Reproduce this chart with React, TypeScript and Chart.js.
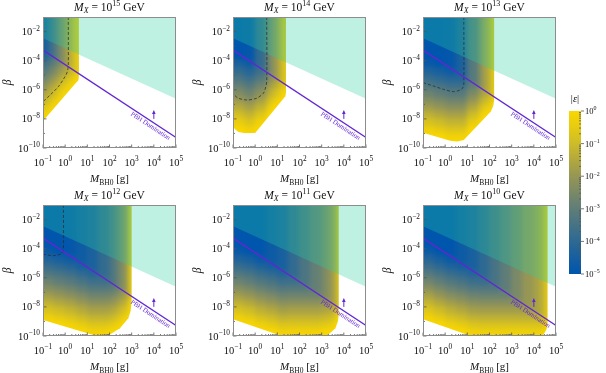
import React, { useEffect, useRef } from "react";
import { Chart, registerables } from "chart.js";
Chart.register(...registerables);

// ---------------- data ----------------
const MX_EXPONENTS = [15, 14, 13, 12, 11, 10];
const M_MIN = 0.1;
const M_MAX = 1e5;
const BETA_MIN = 1e-10;
const BETA_MAX = 1e-1;
const X_TICK_EXPONENTS = [-1, 0, 1, 2, 3, 4, 5];
const Y_TICK_EXPONENTS = [-10, -8, -6, -4, -2];
const Y_MINOR_EXPONENTS = [-9, -7, -5, -3];
const CB_TICK_EXPONENTS = [-5, -4, -3, -2, -1, 0];
// log10(beta) edges of the heat-map rows (top to bottom)
const BETA_ROW_EDGES = [-1, -1.5, -2, -2.5, -3, -3.5, -4, -4.5, -5, -5.5, -6, -6.5, -7, -7.5, -8, -8.5, -9, -9.5, -10];
// PBH domination line and the cyan excluded band edge
const PBH_LINE = [{ x: 0.1, y: 5.3e-4 }, { x: 1e5, y: 5.3e-10 }];
const BOUND_EDGE = [{ x: 0.1, y: 3.5e-3 }, { x: 1e5, y: 2.4e-7 }];
const PBH_ARROW = { x: 1e4, from: 1e-8, to: 3.2e-8 };
const PBH_LABEL = { text: "PBH Domination", x: 9e3 };

// ---- M_X = 1e15 GeV ----
const M_EDGES_15 = [-1, -0.75, -0.5, -0.25, 0, 0.25, 0.45, 0.65, 0.85];
const LOG_EPS_15 = [
  [-4.5, -4.5, -4.5, -4.5, -4.5, -4.2, -3.7, -3.2, -2.7, -2.2, -1.7, -1.2, -0.7, -0.2, 0, 0, 0, 0],
  [-3.8, -3.8, -3.8, -3.8, -3.8, -3.7, -3.2, -2.7, -2.2, -1.7, -1.2, -0.7, -0.2, 0, 0, 0, 0, 0],
  [-3.1, -3.1, -3.1, -3.1, -3.1, -3.1, -2.8, -2.3, -1.8, -1.3, -0.8, -0.3, 0, 0, 0, 0, 0, 0],
  [-2.4, -2.4, -2.4, -2.4, -2.4, -2.4, -2.3, -1.8, -1.3, -0.8, -0.3, 0, 0, 0, 0, 0, 0, 0],
  [-1.7, -1.7, -1.7, -1.7, -1.7, -1.7, -1.7, -1.4, -0.9, -0.4, 0, 0, 0, 0, 0, 0, 0, 0],
  [-1.1, -1.1, -1.1, -1.1, -1.1, -1.1, -1.1, -1.0, -0.5, 0, 0, 0, 0, 0, 0, 0, 0, 0],
  [-0.5, -0.5, -0.5, -0.5, -0.5, -0.5, -0.5, -0.5, -0.1, 0, 0, 0, 0, 0, 0, 0, 0, 0],
  [-0.3, -0.3, -0.3, -0.3, -0.3, -0.3, -0.3, -0.3, 0, 0, 0, 0, 0, 0, 0, 0, 0, 0],
];
const REGION_15 = [[-1, -1], [0.62, -1], [0.62, -5.05], [0.6, -5.35], [0.49, -5.51], [-1, -8.14]];
const CONTOUR_15 = [[0.14, -1], [0.14, -4.3], [0.1, -4.75], [-0.01, -5.1], [-0.31, -5.79], [-0.68, -6.36], [-0.91, -6.7], [-1, -6.8]];

// ---- M_X = 1e14 GeV ----
const M_EDGES_14 = [-1, -0.5, 0, 0.5, 0.75, 1.0, 1.2, 1.4, 1.6];
const LOG_EPS_14 = [
  [-5, -5, -5, -5, -5, -5, -4.4, -3.9, -3.4, -2.9, -2.4, -1.9, -1.4, -0.9, -0.4, 0, 0, 0],
  [-4.9, -4.9, -4.9, -4.9, -4.9, -4.9, -4.7, -4.2, -3.7, -3.2, -2.7, -2.2, -1.7, -1.2, -0.7, -0.2, 0, 0],
  [-3.9, -3.9, -3.9, -3.9, -3.9, -3.9, -3.9, -3.7, -3.2, -2.7, -2.2, -1.7, -1.2, -0.7, -0.2, 0, 0, 0],
  [-2.8, -2.8, -2.8, -2.8, -2.8, -2.8, -2.8, -2.8, -2.5, -2.0, -1.5, -1.0, -0.5, 0, 0, 0, 0, 0],
  [-2.1, -2.1, -2.1, -2.1, -2.1, -2.1, -2.1, -2.1, -2.0, -1.5, -1.0, -0.5, 0, 0, 0, 0, 0, 0],
  [-1.5, -1.5, -1.5, -1.5, -1.5, -1.5, -1.5, -1.5, -1.5, -1.1, -0.6, -0.1, 0, 0, 0, 0, 0, 0],
  [-0.8, -0.8, -0.8, -0.8, -0.8, -0.8, -0.8, -0.8, -0.8, -0.7, -0.2, 0, 0, 0, 0, 0, 0, 0],
  [-0.4, -0.4, -0.4, -0.4, -0.4, -0.4, -0.4, -0.4, -0.4, -0.4, 0, 0, 0, 0, 0, 0, 0, 0],
];
const REGION_14 = [[-1, -1], [1.39, -1], [1.39, -6.2], [1.36, -6.45], [1.28, -6.6], [0.0, -8.97], [-0.52, -8.97], [-0.77, -8.88], [-0.92, -8.7], [-1, -8.49]];
const CONTOUR_14 = [[0.52, -1], [0.52, -5.44], [0.45, -5.95], [0.37, -6.24], [0.07, -6.58], [-0.38, -6.7], [-0.76, -6.58], [-0.94, -6.36], [-1, -6.25]];

// ---- M_X = 1e13 GeV ----
const M_EDGES_13 = [-1, -0.5, 0, 0.5, 1, 1.5, 1.75, 2.0, 2.1, 2.25, 2.45];
const LOG_EPS_13 = [
  [-5, -5, -5, -5, -5, -5, -4.8, -4.3, -3.8, -3.3, -2.8, -2.3, -1.8, -1.3, -0.8, -0.3, 0, 0],
  [-5, -5, -5, -5, -5, -5, -5, -4.5, -4.0, -3.5, -3.0, -2.5, -2.0, -1.5, -1.0, -0.5, 0, 0],
  [-4.9, -4.9, -4.9, -4.9, -4.9, -4.9, -4.9, -4.7, -4.2, -3.7, -3.2, -2.7, -2.2, -1.7, -1.2, -0.7, -0.2, 0],
  [-4.4, -4.4, -4.4, -4.4, -4.4, -4.4, -4.4, -4.4, -4.2, -3.7, -3.2, -2.7, -2.2, -1.7, -1.2, -0.7, -0.2, 0],
  [-3.2, -3.2, -3.2, -3.2, -3.2, -3.2, -3.2, -3.2, -3.2, -3.0, -2.5, -2.0, -1.5, -1.0, -0.5, 0, 0, 0],
  [-2.3, -2.3, -2.3, -2.3, -2.3, -2.3, -2.3, -2.3, -2.3, -2.3, -1.9, -1.4, -0.9, -0.4, 0, 0, 0, 0],
  [-1.6, -1.6, -1.6, -1.6, -1.6, -1.6, -1.6, -1.6, -1.6, -1.6, -1.5, -1.0, -0.5, 0, 0, 0, 0, 0],
  [-1.2, -1.2, -1.2, -1.2, -1.2, -1.2, -1.2, -1.2, -1.2, -1.2, -1.2, -0.8, -0.3, 0, 0, 0, 0, 0],
  [-0.6, -0.6, -0.6, -0.6, -0.6, -0.6, -0.6, -0.6, -0.6, -0.6, -0.6, -0.3, 0, 0, 0, 0, 0, 0],
  [-0.4, -0.4, -0.4, -0.4, -0.4, -0.4, -0.4, -0.4, -0.4, -0.4, -0.4, -0.2, 0, 0, 0, 0, 0, 0],
];
const REGION_13 = [[-1, -1], [2.21, -1], [2.21, -6.7], [2.17, -7.1], [2.06, -7.5], [0.84, -9.45], [0.54, -9.56], [0.23, -9.5], [-1, -8.95]];
const CONTOUR_13 = [[0.84, -1], [0.84, -5.67], [0.78, -5.9], [0.69, -6.01], [0.38, -6.13], [-0.07, -5.97], [-0.53, -5.74], [-1, -5.51]];

// ---- M_X = 1e12 GeV ----
const M_EDGES_12 = [-1, -0.5, 0, 0.5, 1, 1.5, 2, 2.25, 2.5, 2.75, 2.9, 3.05, 3.25];
const LOG_EPS_12 = [
  [-5, -5, -5, -5, -5, -5, -4.8, -4.3, -3.8, -3.3, -2.8, -2.3, -1.8, -1.3, -0.8, -0.3, 0, 0],
  [-5, -5, -5, -5, -5, -5, -5, -4.5, -4.0, -3.5, -3.0, -2.5, -2.0, -1.5, -1.0, -0.5, 0, 0],
  [-4.9, -4.9, -4.9, -4.9, -4.9, -4.9, -4.9, -4.7, -4.2, -3.7, -3.2, -2.7, -2.2, -1.7, -1.2, -0.7, -0.2, 0],
  [-4.65, -4.65, -4.65, -4.65, -4.65, -4.65, -4.65, -4.65, -4.45, -3.95, -3.45, -2.95, -2.45, -1.95, -1.45, -0.95, -0.45, 0],
  [-4.4, -4.4, -4.4, -4.4, -4.4, -4.4, -4.4, -4.4, -4.4, -4.2, -3.7, -3.2, -2.7, -2.2, -1.7, -1.2, -0.7, -0.2],
  [-3.9, -3.9, -3.9, -3.9, -3.9, -3.9, -3.9, -3.9, -3.9, -3.9, -3.7, -3.2, -2.7, -2.2, -1.7, -1.2, -0.7, -0.2],
  [-3.4, -3.4, -3.4, -3.4, -3.4, -3.4, -3.4, -3.4, -3.4, -3.4, -3.4, -3.1, -2.55, -2.05, -1.55, -1.05, -0.55, -0.05],
  [-2.9, -2.9, -2.9, -2.9, -2.9, -2.9, -2.9, -2.9, -2.9, -2.9, -2.9, -2.8, -2.3, -1.8, -1.3, -0.8, -0.3, 0],
  [-2.3, -2.3, -2.3, -2.3, -2.3, -2.3, -2.3, -2.3, -2.3, -2.3, -2.3, -2.3, -1.9, -1.4, -0.9, -0.4, 0, 0],
  [-1.7, -1.7, -1.7, -1.7, -1.7, -1.7, -1.7, -1.7, -1.7, -1.7, -1.7, -1.7, -1.6, -1.1, -0.6, -0.1, 0, 0],
  [-0.55, -0.55, -0.55, -0.55, -0.55, -0.55, -0.55, -0.55, -0.55, -0.55, -0.55, -0.55, -0.55, -0.1, 0, 0, 0, 0],
  [-0.3, -0.3, -0.3, -0.3, -0.3, -0.3, -0.3, -0.3, -0.3, -0.3, -0.3, -0.3, -0.3, 0, 0, 0, 0, 0],
];
const REGION_12 = [[-1, -1], [3.0, -1], [3.0, -7.64], [2.95, -8.3], [2.85, -8.78], [2.47, -9.47], [2.02, -9.9], [1.8, -10.1], [1.64, -10.1], [-1, -8.9]];
const CONTOUR_12 = [[-0.08, -1], [-0.08, -4.09], [-0.15, -4.3], [-0.23, -4.39], [-0.54, -4.48], [-0.99, -4.39]];

// ---- M_X = 1e11 GeV ----
const M_EDGES_11 = [-1, -0.5, 0, 0.5, 1, 1.5, 2, 2.5, 3, 3.25, 3.5, 3.65, 3.8, 4.0];
const LOG_EPS_11 = [
  [-5, -5, -5, -5, -5, -5, -4.8, -4.3, -3.8, -3.3, -2.8, -2.3, -1.8, -1.3, -0.8, -0.3, 0, 0],
  [-5, -5, -5, -5, -5, -5, -5, -4.5, -4.0, -3.5, -3.0, -2.5, -2.0, -1.5, -1.0, -0.5, 0, 0],
  [-5, -5, -5, -5, -5, -5, -5, -4.8, -4.3, -3.8, -3.3, -2.8, -2.3, -1.8, -1.3, -0.8, -0.3, 0],
  [-4.7, -4.7, -4.7, -4.7, -4.7, -4.7, -4.7, -4.7, -4.5, -4.0, -3.5, -3.0, -2.5, -2.0, -1.5, -1.0, -0.5, 0],
  [-4.45, -4.45, -4.45, -4.45, -4.45, -4.45, -4.45, -4.45, -4.45, -4.25, -3.75, -3.25, -2.75, -2.25, -1.75, -1.25, -0.75, -0.25],
  [-3.9, -3.9, -3.9, -3.9, -3.9, -3.9, -3.9, -3.9, -3.9, -3.9, -3.7, -3.2, -2.7, -2.2, -1.7, -1.2, -0.7, -0.2],
  [-3.4, -3.4, -3.4, -3.4, -3.4, -3.4, -3.4, -3.4, -3.4, -3.4, -3.4, -3.2, -2.7, -2.2, -1.7, -1.2, -0.7, -0.2],
  [-2.9, -2.9, -2.9, -2.9, -2.9, -2.9, -2.9, -2.9, -2.9, -2.9, -2.9, -2.9, -2.7, -2.2, -1.7, -1.2, -0.7, -0.2],
  [-2.5, -2.5, -2.5, -2.5, -2.5, -2.5, -2.5, -2.5, -2.5, -2.5, -2.5, -2.5, -2.5, -2.1, -1.6, -1.1, -0.6, -0.1],
  [-2.1, -2.1, -2.1, -2.1, -2.1, -2.1, -2.1, -2.1, -2.1, -2.1, -2.1, -2.1, -2.1, -2.0, -1.5, -1.0, -0.5, 0],
  [-1.7, -1.7, -1.7, -1.7, -1.7, -1.7, -1.7, -1.7, -1.7, -1.7, -1.7, -1.7, -1.7, -1.7, -1.3, -0.8, -0.3, 0],
  [-0.95, -0.95, -0.95, -0.95, -0.95, -0.95, -0.95, -0.95, -0.95, -0.95, -0.95, -0.95, -0.95, -0.95, -0.7, -0.2, 0, 0],
  [-0.4, -0.4, -0.4, -0.4, -0.4, -0.4, -0.4, -0.4, -0.4, -0.4, -0.4, -0.4, -0.4, -0.4, -0.2, 0, 0, 0],
];
const REGION_11 = [[-1, -1], [3.77, -1], [3.77, -8.55], [3.73, -9.0], [3.62, -9.47], [3.32, -9.88], [3.1, -10.1], [1.39, -10.1], [-1, -8.85]];
const CONTOUR_11: number[][] = [];

// ---- M_X = 1e10 GeV ----
const M_EDGES_10 = [-1, -0.5, 0, 0.5, 1, 1.5, 2, 2.5, 3, 3.5, 4, 4.25, 4.5, 4.65, 4.8];
const LOG_EPS_10 = [
  [-5, -5, -5, -5, -5, -5, -4.7, -4.2, -3.7, -3.2, -2.7, -2.2, -1.7, -1.2, -0.7, -0.2, 0, 0],
  [-5, -5, -5, -5, -5, -5, -5, -4.5, -4.0, -3.5, -3.0, -2.5, -2.0, -1.5, -1.0, -0.5, 0, 0],
  [-5, -5, -5, -5, -5, -5, -5, -4.8, -4.3, -3.8, -3.3, -2.8, -2.3, -1.8, -1.3, -0.8, -0.3, 0],
  [-4.7, -4.7, -4.7, -4.7, -4.7, -4.7, -4.7, -4.7, -4.5, -4.0, -3.5, -3.0, -2.5, -2.0, -1.5, -1.0, -0.5, 0],
  [-4.45, -4.45, -4.45, -4.45, -4.45, -4.45, -4.45, -4.45, -4.45, -4.25, -3.75, -3.25, -2.75, -2.25, -1.75, -1.25, -0.75, -0.25],
  [-4.0, -4.0, -4.0, -4.0, -4.0, -4.0, -4.0, -4.0, -4.0, -4.0, -3.8, -3.3, -2.8, -2.3, -1.8, -1.3, -0.8, -0.3],
  [-3.5, -3.5, -3.5, -3.5, -3.5, -3.5, -3.5, -3.5, -3.5, -3.5, -3.5, -3.3, -2.8, -2.3, -1.8, -1.3, -0.8, -0.3],
  [-3.0, -3.0, -3.0, -3.0, -3.0, -3.0, -3.0, -3.0, -3.0, -3.0, -3.0, -3.0, -2.8, -2.3, -1.8, -1.3, -0.8, -0.3],
  [-2.5, -2.5, -2.5, -2.5, -2.5, -2.5, -2.5, -2.5, -2.5, -2.5, -2.5, -2.5, -2.5, -2.3, -1.8, -1.3, -0.8, -0.3],
  [-2.0, -2.0, -2.0, -2.0, -2.0, -2.0, -2.0, -2.0, -2.0, -2.0, -2.0, -2.0, -2.0, -2.0, -1.8, -1.3, -0.8, -0.3],
  [-1.7, -1.7, -1.7, -1.7, -1.7, -1.7, -1.7, -1.7, -1.7, -1.7, -1.7, -1.7, -1.7, -1.7, -1.7, -1.3, -0.8, -0.3],
  [-1.4, -1.4, -1.4, -1.4, -1.4, -1.4, -1.4, -1.4, -1.4, -1.4, -1.4, -1.4, -1.4, -1.4, -1.4, -1.3, -0.8, -0.3],
  [-0.65, -0.65, -0.65, -0.65, -0.65, -0.65, -0.65, -0.65, -0.65, -0.65, -0.65, -0.65, -0.65, -0.65, -0.65, -0.65, -0.3, 0],
  [-0.3, -0.3, -0.3, -0.3, -0.3, -0.3, -0.3, -0.3, -0.3, -0.3, -0.3, -0.3, -0.3, -0.3, -0.3, -0.3, 0, 0],
];
const REGION_10 = [[-1, -1], [4.62, -1], [4.62, -9.2], [4.58, -9.5], [4.5, -9.75], [4.35, -10.1], [1.35, -10.1], [-1, -8.85]];
const CONTOUR_10: number[][] = [];

const PANELS = [
  { mx: MX_EXPONENTS[0], edges: M_EDGES_15, eps: LOG_EPS_15, region: REGION_15, contour: CONTOUR_15 },
  { mx: MX_EXPONENTS[1], edges: M_EDGES_14, eps: LOG_EPS_14, region: REGION_14, contour: CONTOUR_14 },
  { mx: MX_EXPONENTS[2], edges: M_EDGES_13, eps: LOG_EPS_13, region: REGION_13, contour: CONTOUR_13 },
  { mx: MX_EXPONENTS[3], edges: M_EDGES_12, eps: LOG_EPS_12, region: REGION_12, contour: CONTOUR_12 },
  { mx: MX_EXPONENTS[4], edges: M_EDGES_11, eps: LOG_EPS_11, region: REGION_11, contour: CONTOUR_11 },
  { mx: MX_EXPONENTS[5], edges: M_EDGES_10, eps: LOG_EPS_10, region: REGION_10, contour: CONTOUR_10 },
];

// ---------------- styles ----------------
const PURPLE = "rgb(98,38,212)";
const TEXT = "#111";
const SPINE = "#8c8c8c";
const TICK = "#555";
const CYAN_FILL = "rgba(40,210,160,0.3)";
const CMAP_STOPS = [
  [0, 0, 85, 172], [0.1, 22, 95, 160], [0.2, 45, 105, 147], [0.3, 70, 115, 133],
  [0.4, 95, 125, 120], [0.5, 122, 137, 103], [0.6, 150, 150, 85], [0.7, 178, 168, 62],
  [0.8, 205, 188, 40], [0.9, 230, 203, 18], [1, 250, 215, 0],
];
const PANEL_W = 186;
const PANEL_H = 187;
const PANEL_POS = [[0, 0], [190, 0], [380, 0], [0, 188], [190, 188], [380, 188]];

function serif(size: number, italic = false) {
  return `${italic ? "italic " : ""}${size}px "Liberation Serif", "DejaVu Serif", serif`;
}
function expText(e: number) {
  return e < 0 ? "\u2212" + Math.abs(e) : String(e);
}
function cmap(v: number) {
  const t = Math.max(0, Math.min(1, (v + 5) / 5));
  for (let k = 1; k < CMAP_STOPS.length; k++) {
    const a = CMAP_STOPS[k - 1], b = CMAP_STOPS[k];
    if (t <= b[0]) {
      const u = (t - a[0]) / (b[0] - a[0]);
      const c = [1, 2, 3].map((q) => Math.round(a[q] + (b[q] - a[q]) * u));
      return `rgb(${c[0]},${c[1]},${c[2]})`;
    }
  }
  return "rgb(250,215,0)";
}

type Seg = { t: string; size: number; italic?: boolean; dy?: number };
function drawSegs(ctx: CanvasRenderingContext2D, segs: Seg[], x: number, y: number, align: "left" | "center" | "right") {
  ctx.textAlign = "left";
  ctx.textBaseline = "alphabetic";
  const ws = segs.map((s) => {
    ctx.font = serif(s.size, s.italic);
    return ctx.measureText(s.t).width;
  });
  const total = ws.reduce((p, q) => p + q, 0);
  let cx = align === "center" ? x - total / 2 : align === "right" ? x - total : x;
  segs.forEach((s, i) => {
    ctx.font = serif(s.size, s.italic);
    ctx.fillText(s.t, cx, y + (s.dy || 0));
    cx += ws[i];
  });
}
function powSegs(e: number, size: number): Seg[] {
  return [{ t: "10", size }, { t: expText(e), size: size * 0.7, dy: -size * 0.42 }];
}

function makeConfig(p: any): any {
  const heat = {
    id: "heat",
    beforeDatasetsDraw(chart: any) {
      const { ctx, chartArea: a } = chart;
      const xs = chart.scales.x, ys = chart.scales.y;
      const off = document.createElement("canvas");
      off.width = chart.width;
      off.height = chart.height;
      const oc = off.getContext("2d") as CanvasRenderingContext2D;
      const nc = p.edges.length - 1, nr = BETA_ROW_EDGES.length - 1;
      for (let j = 0; j < nc; j++) {
        let x0 = xs.getPixelForValue(10 ** p.edges[j]);
        let x1 = xs.getPixelForValue(10 ** p.edges[j + 1]);
        if (j === 0) x0 -= 15;
        if (j === nc - 1) x1 += 15;
        for (let i = 0; i < nr; i++) {
          let y0 = ys.getPixelForValue(10 ** BETA_ROW_EDGES[i]);
          let y1 = ys.getPixelForValue(10 ** BETA_ROW_EDGES[i + 1]);
          if (i === 0) y0 -= 15;
          if (i === nr - 1) y1 += 15;
          oc.fillStyle = cmap(p.eps[j][i]);
          const fx = Math.floor(x0), fy = Math.floor(y0);
          oc.fillRect(fx, fy, Math.ceil(x1) - fx, Math.ceil(y1) - fy);
        }
      }
      ctx.save();
      ctx.beginPath();
      ctx.rect(a.left, a.top, a.right - a.left, a.bottom - a.top);
      ctx.clip();
      ctx.beginPath();
      p.region.forEach((pt: number[], k: number) => {
        const px = xs.getPixelForValue(10 ** pt[0]);
        const py = ys.getPixelForValue(10 ** pt[1]);
        if (k === 0) ctx.moveTo(px, py);
        else ctx.lineTo(px, py);
      });
      ctx.closePath();
      ctx.clip();
      ctx.filter = "blur(2.5px)";
      ctx.drawImage(off, 0, 0);
      ctx.filter = "none";
      ctx.restore();
    },
  };
  const deco = {
    id: "deco",
    afterDatasetsDraw(chart: any) {
      const { ctx, chartArea: a } = chart;
      const xs = chart.scales.x, ys = chart.scales.y;
      const x0 = xs.getPixelForValue(PBH_LINE[0].x), y0 = ys.getPixelForValue(PBH_LINE[0].y);
      const x1 = xs.getPixelForValue(PBH_LINE[1].x), y1 = ys.getPixelForValue(PBH_LINE[1].y);
      const th = Math.atan2(y1 - y0, x1 - x0);
      const lx = xs.getPixelForValue(PBH_LABEL.x);
      const ly = y0 + ((lx - x0) / (x1 - x0)) * (y1 - y0);
      ctx.save();
      ctx.beginPath();
      ctx.rect(a.left, a.top, a.right - a.left, a.bottom - a.top);
      ctx.clip();
      ctx.translate(lx - Math.sin(th) * 4.6, ly + Math.cos(th) * 4.6);
      ctx.rotate(th);
      ctx.fillStyle = PURPLE;
      ctx.font = serif(6.6);
      ctx.textAlign = "center";
      ctx.textBaseline = "middle";
      ctx.fillText(PBH_LABEL.text, 0, 0);
      ctx.restore();
      // arrow
      const ax = xs.getPixelForValue(PBH_ARROW.x);
      const ay0 = ys.getPixelForValue(PBH_ARROW.from), ay1 = ys.getPixelForValue(PBH_ARROW.to);
      ctx.save();
      ctx.strokeStyle = PURPLE;
      ctx.fillStyle = PURPLE;
      ctx.lineWidth = 1;
      ctx.beginPath();
      ctx.moveTo(ax, ay0);
      ctx.lineTo(ax, ay1 + 2);
      ctx.stroke();
      ctx.beginPath();
      ctx.moveTo(ax, ay1 - 1.5);
      ctx.lineTo(ax - 1.8, ay1 + 2.5);
      ctx.lineTo(ax + 1.8, ay1 + 2.5);
      ctx.closePath();
      ctx.fill();
      ctx.restore();
    },
    afterDraw(chart: any) {
      const { ctx, chartArea: a } = chart;
      const xs = chart.scales.x, ys = chart.scales.y;
      ctx.save();
      // ticks (inside)
      ctx.strokeStyle = TICK;
      ctx.lineWidth = 0.8;
      ctx.beginPath();
      for (let e = -1; e <= 5; e++) {
        const px = xs.getPixelForValue(10 ** e);
        ctx.moveTo(px, a.bottom);
        ctx.lineTo(px, a.bottom - 3.5);
        if (e < 5) {
          for (let m = 2; m <= 9; m++) {
            const q = xs.getPixelForValue(m * 10 ** e);
            ctx.moveTo(q, a.bottom);
            ctx.lineTo(q, a.bottom - 2);
          }
        }
      }
      Y_TICK_EXPONENTS.forEach((e) => {
        const py = ys.getPixelForValue(10 ** e);
        ctx.moveTo(a.left, py);
        ctx.lineTo(a.left + 3.5, py);
      });
      Y_MINOR_EXPONENTS.forEach((e) => {
        const py = ys.getPixelForValue(10 ** e);
        ctx.moveTo(a.left, py);
        ctx.lineTo(a.left + 2, py);
      });
      ctx.stroke();
      // frame
      ctx.strokeStyle = SPINE;
      ctx.lineWidth = 1;
      ctx.strokeRect(a.left + 0.5, a.top + 0.5, a.right - a.left - 1, a.bottom - a.top - 1);
      // labels
      ctx.fillStyle = TEXT;
      X_TICK_EXPONENTS.forEach((e) => {
        drawSegs(ctx, powSegs(e, 10.5), xs.getPixelForValue(10 ** e), a.bottom + 17.5, "center");
      });
      Y_TICK_EXPONENTS.forEach((e) => {
        drawSegs(ctx, powSegs(e, 10.5), a.left - 3, ys.getPixelForValue(10 ** e) + 3.6, "right");
      });
      const cx = (a.left + a.right) / 2;
      drawSegs(
        ctx,
        [
          { t: "M", size: 11.5, italic: true },
          { t: "X", size: 8, italic: true, dy: 2.5 },
          { t: " = 10", size: 11.5 },
          { t: String(p.mx), size: 8, dy: -4.8 },
          { t: " GeV", size: 11.5 },
        ],
        cx,
        a.top - 6.5,
        "center"
      );
      drawSegs(
        ctx,
        [
          { t: "M", size: 11, italic: true },
          { t: "BH0", size: 7.5, dy: 2.5 },
          { t: " [g]", size: 11 },
        ],
        cx,
        a.bottom + 34,
        "center"
      );
      ctx.translate(11, (a.top + a.bottom) / 2);
      ctx.rotate(-Math.PI / 2);
      ctx.font = serif(11.5, true);
      ctx.textAlign = "center";
      ctx.textBaseline = "alphabetic";
      ctx.fillText("\u03b2", 0, 0);
      ctx.restore();
    },
  };
  return {
    type: "line",
    data: {
      datasets: [
        { data: PBH_LINE, borderColor: PURPLE, borderWidth: 1.3, pointRadius: 0, fill: false },
        {
          data: p.contour.map((q: number[]) => ({ x: 10 ** q[0], y: 10 ** q[1] })),
          borderColor: "rgba(45,45,45,0.85)",
          borderWidth: 0.9,
          borderDash: [3, 2],
          pointRadius: 0,
          tension: 0.3,
          fill: false,
        },
        {
          data: BOUND_EDGE,
          borderWidth: 0,
          borderColor: "rgba(0,0,0,0)",
          pointRadius: 0,
          fill: "end",
          backgroundColor: CYAN_FILL,
        },
      ],
    },
    options: {
      animation: false,
      responsive: false,
      maintainAspectRatio: false,
      devicePixelRatio: 1,
      events: [],
      layout: { padding: { left: 43, top: 17, right: 10, bottom: PANEL_H - 17 - 131 } },
      scales: {
        x: { type: "logarithmic", min: M_MIN, max: M_MAX, display: false },
        y: { type: "logarithmic", min: BETA_MIN, max: BETA_MAX, display: false },
      },
      plugins: { legend: { display: false }, tooltip: { enabled: false } },
    },
    plugins: [heat, deco],
  };
}

function Panel({ k }: { k: number }) {
  const ref = useRef<HTMLCanvasElement | null>(null);
  useEffect(() => {
    const chart = new Chart(ref.current as HTMLCanvasElement, makeConfig(PANELS[k]));
    return () => chart.destroy();
  }, [k]);
  const [l, t] = PANEL_POS[k];
  return (
    <canvas
      ref={ref}
      width={PANEL_W}
      height={PANEL_H}
      style={{ position: "absolute", left: l, top: t, width: PANEL_W, height: PANEL_H }}
    />
  );
}

function ColorBar() {
  const ref = useRef<HTMLCanvasElement | null>(null);
  useEffect(() => {
    const cb = {
      id: "cb",
      afterDraw(chart: any) {
        const { ctx, chartArea: a } = chart;
        const ys = chart.scales.y;
        const top = ys.getPixelForValue(1), bot = ys.getPixelForValue(1e-5);
        const g = ctx.createLinearGradient(0, bot, 0, top);
        CMAP_STOPS.forEach((s) => g.addColorStop(s[0], `rgb(${s[1]},${s[2]},${s[3]})`));
        ctx.save();
        ctx.fillStyle = g;
        ctx.fillRect(a.left, top, a.right - a.left, bot - top);
        ctx.strokeStyle = TICK;
        ctx.lineWidth = 0.8;
        ctx.beginPath();
        CB_TICK_EXPONENTS.forEach((e) => {
          const py = ys.getPixelForValue(10 ** e);
          ctx.moveTo(a.right, py);
          ctx.lineTo(a.right + 3, py);
          if (e < 0) {
            for (let m = 2; m <= 9; m++) {
              const q = ys.getPixelForValue(m * 10 ** e);
              ctx.moveTo(a.right, q);
              ctx.lineTo(a.right - 2, q);
            }
          }
        });
        ctx.stroke();
        ctx.fillStyle = TEXT;
        CB_TICK_EXPONENTS.forEach((e) => {
          drawSegs(ctx, powSegs(e, 8.5), a.right + 4, ys.getPixelForValue(10 ** e) + 3, "left");
        });
        drawSegs(
          ctx,
          [
            { t: "|", size: 10.5 },
            { t: "\u03b5", size: 10.5, italic: true },
            { t: "|", size: 10.5 },
          ],
          (a.left + a.right) / 2,
          a.top - 9,
          "center"
        );
        ctx.restore();
      },
    };
    const chart = new Chart(ref.current as HTMLCanvasElement, {
      type: "line",
      data: { datasets: [] },
      options: {
        animation: false,
        responsive: false,
        maintainAspectRatio: false,
        devicePixelRatio: 1,
        events: [],
        layout: { padding: { left: 9, right: 25, top: 23, bottom: 14 } },
        scales: {
          x: { type: "linear", display: false },
          y: { type: "logarithmic", min: 1e-5, max: 1, display: false },
        },
        plugins: { legend: { display: false }, tooltip: { enabled: false } },
      },
      plugins: [cb],
    } as any);
    return () => chart.destroy();
  }, []);
  return (
    <canvas ref={ref} width={46} height={200} style={{ position: "absolute", left: 560, top: 88, width: 46, height: 200 }} />
  );
}

export default function App() {
  return (
    <div style={{ position: "fixed", left: 0, top: 0, width: 606, height: 373, background: "#fff", overflow: "hidden" }}>
      {PANELS.map((_, k) => (
        <Panel key={k} k={k} />
      ))}
      <ColorBar />
    </div>
  );
}
